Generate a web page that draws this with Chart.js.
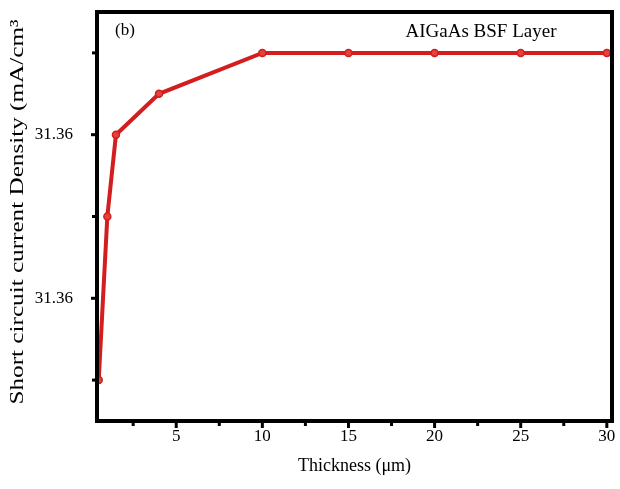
<!DOCTYPE html>
<html>
<head>
<meta charset="utf-8">
<script src="https://cdn.jsdelivr.net/npm/chart.js@4/dist/chart.umd.min.js"></script>
<style>
  html, body { margin: 0; padding: 0; background: #fff; }
  #wrap { width: 620px; height: 489px; }
</style>
</head>
<body>
<div id="wrap"><canvas id="jscChart"></canvas></div>
<script>
// Espesor de la capa BSF (µm) y densidad de corriente de cortocircuito
const thickness = [0.5, 1, 1.5, 4, 10, 15, 20, 25, 30];
const jsc = [31.356, 31.360, 31.362, 31.363, 31.364, 31.364, 31.364, 31.364, 31.364];

// Marcas de los ejes
const xTicks = [2.5, 5, 7.5, 10, 12.5, 15, 17.5, 20, 22.5, 25, 27.5, 30];
const xLabels = [5, 10, 15, 20, 25, 30];
const yTicks = [31.356, 31.358, 31.360, 31.362, 31.364];
const yLabels = [31.358, 31.362];

const rojo = "#d21e1e";
const serif = "'Liberation Serif', 'DejaVu Serif', serif";
const tituloY = "Short circuit current Density (mA/cm³";

const esEtiqueta = (lista, v) => lista.some(t => Math.abs(t - v) < 1e-6);

// Marco negro grueso, marcas de los ejes y textos del panel
const marcoPlugin = {
    id: "marco",
    afterDatasetsDraw(chart) {
        const { ctx, chartArea: a, scales } = chart;
        ctx.save();
        ctx.strokeStyle = "#000";
        ctx.lineWidth = 4;
        ctx.strokeRect(a.left, a.top, a.right - a.left, a.bottom - a.top);

        ctx.lineWidth = 3;
        xTicks.forEach(v => {
            const x = scales.x.getPixelForValue(v);
            const largo = esEtiqueta(xLabels, v) ? 7 : 5;
            ctx.beginPath();
            ctx.moveTo(x, a.bottom);
            ctx.lineTo(x, a.bottom + largo);
            ctx.stroke();
        });
        yTicks.forEach(v => {
            const y = scales.y.getPixelForValue(v);
            const largo = esEtiqueta(yLabels, v) ? 6 : 5;
            ctx.beginPath();
            ctx.moveTo(a.left, y);
            ctx.lineTo(a.left - largo, y);
            ctx.stroke();
        });

        ctx.fillStyle = "#000";
        ctx.textBaseline = "middle";
        ctx.font = "17px " + serif;
        ctx.textAlign = "left";
        ctx.fillText("(b)", a.left + 18, a.top + 19);
        ctx.font = "19px " + serif;
        ctx.textAlign = "center";
        ctx.fillText("AIGaAs BSF Layer", 481, a.top + 20);

        // Título del eje Y, girado y estirado a lo largo del eje
        ctx.font = "19px " + serif;
        const ancho = ctx.measureText(tituloY).width;
        ctx.translate(18, 212);
        ctx.rotate(-Math.PI / 2);
        ctx.scale(385 / ancho, 1);
        ctx.fillText(tituloY, 0, 0);
        ctx.restore();
    },
};

document.addEventListener("DOMContentLoaded", () => {
    const ctx = document.getElementById("jscChart").getContext("2d");

    new Chart(ctx, {
        type: "line",
        data: {
            datasets: [
                {
                    data: thickness.map((t, i) => ({ x: t, y: jsc[i] })),
                    borderColor: rojo,
                    borderWidth: 4,
                    backgroundColor: "#e8403c",
                    pointBorderColor: rojo,
                    pointBorderWidth: 1.5,
                    pointRadius: 3.5,
                    pointHoverRadius: 3.5,
                    tension: 0,
                    clip: 6,
                },
            ],
        },
        plugins: [marcoPlugin],
        options: {
            responsive: true,
            maintainAspectRatio: false,
            animation: false,
            layout: { padding: { left: 0, right: 8, top: 12, bottom: 0 } },
            plugins: {
                legend: { display: false },
                tooltip: { enabled: false },
            },
            scales: {
                x: {
                    type: "linear",
                    min: 0.4,
                    max: 30.3,
                    afterBuildTicks: s => { s.ticks = xTicks.map(v => ({ value: v })); },
                    afterFit: s => { s.height = 68; s.paddingLeft = 0; s.paddingRight = 0; },
                    grid: { display: false, drawTicks: false },
                    border: { display: false },
                    ticks: {
                        autoSkip: false,
                        maxRotation: 0,
                        padding: 5,
                        color: "#000",
                        font: { family: serif, size: 17 },
                        callback: v => (esEtiqueta(xLabels, v) ? String(v) : ""),
                    },
                    title: {
                        display: true,
                        text: "Thickness (μm)",
                        color: "#000",
                        font: { family: serif, size: 18 },
                        padding: { top: 0, bottom: 12 },
                    },
                },
                y: {
                    type: "linear",
                    min: 31.355,
                    max: 31.365,
                    afterBuildTicks: s => { s.ticks = yTicks.map(v => ({ value: v })); },
                    afterFit: s => { s.width = 97; s.paddingTop = 0; s.paddingBottom = 0; },
                    grid: { display: false, drawTicks: false },
                    border: { display: false },
                    ticks: {
                        autoSkip: false,
                        padding: 24,
                        color: "#000",
                        font: { family: serif, size: 17 },
                        callback: v => (esEtiqueta(yLabels, v) ? v.toFixed(2) : ""),
                    },
                },
            },
        },
    });
});
</script>
</body>
</html>
